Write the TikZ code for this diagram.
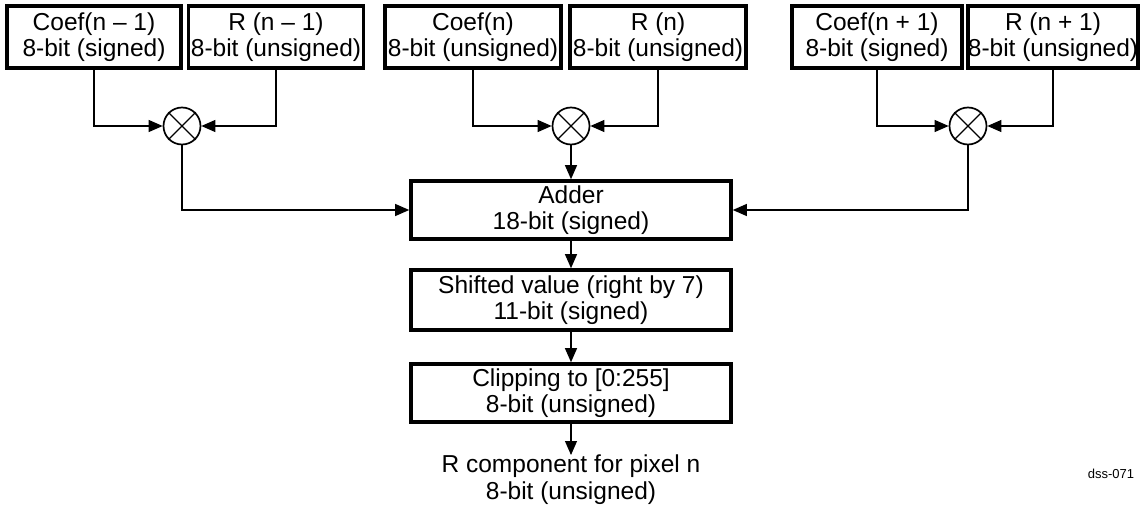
\documentclass[tikz,border=0pt]{standalone}
\usepackage{fontspec}
\setmainfont{Liberation Sans}
\usetikzlibrary{arrows.meta}
\begin{document}
\begin{tikzpicture}[x=1pt,y=-1pt,
  box/.style={draw,line width=3.6pt,inner sep=0pt,minimum height=62pt,align=center,
    font=\fontsize{24.5}{26.5}\selectfont},
  mult/.style={draw,circle,line width=1.7pt,minimum size=37pt,inner sep=0pt},
  conn/.style={line width=1.1pt,-{Triangle[length=14pt,width=12pt]}},
  plain/.style={inner sep=0pt,align=center,font=\fontsize{24.5}{26.5}\selectfont}]
\useasboundingbox (0,0) rectangle (1140,508);
% top row
\node[box,minimum width=174pt] (a1) at (94,37) {Coef(n -- 1)\\8-bit (signed)};
\node[box,minimum width=175pt] (b1) at (276,37) {R (n -- 1)\\8-bit (unsigned)};
\node[box,minimum width=176pt] (a2) at (473,37) {Coef(n)\\8-bit (unsigned)};
\node[box,minimum width=176pt] (b2) at (658,37) {R (n)\\8-bit (unsigned)};
\node[box,minimum width=170pt] (a3) at (877,37) {Coef(n + 1)\\8-bit (signed)};
\node[box,minimum width=168pt] (b3) at (1053,37) {R (n + 1)\\8-bit (unsigned)};
% multipliers
\node[mult] (m1) at (182,126) {};
\node[mult] (m2) at (571,126) {};
\node[mult] (m3) at (968,126) {};
\foreach \m in {m1,m2,m3}{
  \draw[line width=1.3pt] (\m.north east) -- (\m.south west);
  \draw[line width=1.3pt] (\m.north west) -- (\m.south east);
}
% chain
\node[box,minimum width=320pt,minimum height=58pt] (add) at (571,210) {Adder\\18-bit (signed)};
\node[box,minimum width=320pt,minimum height=60pt] (shf) at (571,300) {Shifted value (right by 7)\\11-bit (signed)};
\node[box,minimum width=320pt,minimum height=58pt] (clp) at (571,393) {Clipping to [0:255]\\8-bit (unsigned)};
\node[plain,anchor=north] (out) at (571,455) {R component for pixel n\\8-bit (unsigned)};
\node[inner sep=0pt,font=\fontsize{13}{15}\selectfont] (tag) at (1111,474) {dss-071};
% connectors
\draw[conn] (a1.south) |- (m1.west);
\draw[conn] (b1.south) |- (m1.east);
\draw[conn] (a2.south) |- (m2.west);
\draw[conn] (b2.south) |- (m2.east);
\draw[conn] (a3.south) |- (m3.west);
\draw[conn] (b3.south) |- (m3.east);
\draw[conn] (m1.south) |- (add.west);
\draw[conn] (m2.south) -- (add.north);
\draw[conn] (m3.south) |- (add.east);
\draw[conn] (add.south) -- (shf.north);
\draw[conn] (shf.south) -- (clp.north);
\draw[conn] (clp.south) -- (out.north);
\end{tikzpicture}
\end{document}
